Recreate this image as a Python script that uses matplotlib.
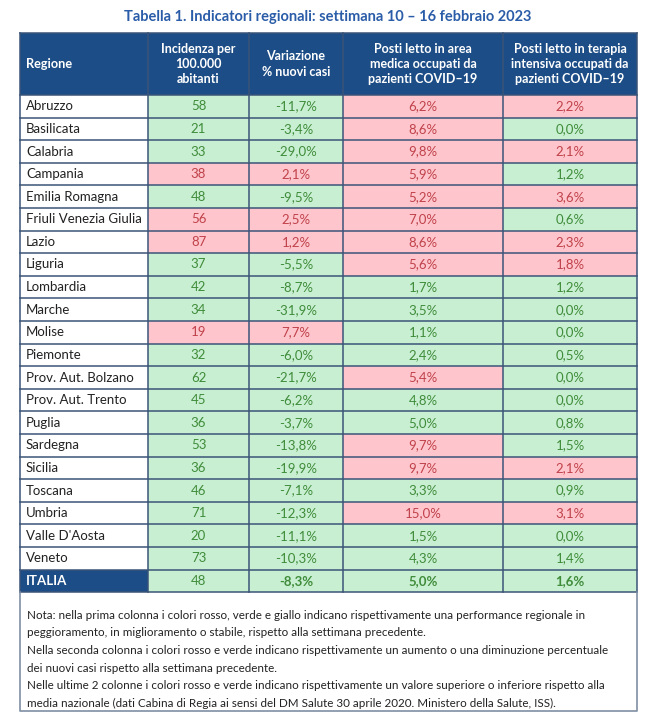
import matplotlib.pyplot as plt
import matplotlib.patches as m_patches

regioni = ['Abruzzo', 'Basilicata', 'Calabria', 'Campania', 'Emilia Romagna',
           'Friuli Venezia Giulia', 'Lazio', 'Liguria', 'Lombardia', 'Marche',
           'Molise', 'Piemonte', 'Prov. Aut. Bolzano', 'Prov. Aut. Trento',
           'Puglia', 'Sardegna', 'Sicilia', 'Toscana', 'Umbria',
           "Valle D'Aosta", 'Veneto']
incidenza = [58, 21, 33, 38, 48, 56, 87, 37, 42, 34, 19, 32, 62, 45, 36, 53,
             36, 46, 71, 20, 73]
variazione = [-11.7, -3.4, -29.0, 2.1, -9.5, 2.5, 1.2, -5.5, -8.7, -31.9, 7.7,
              -6.0, -21.7, -6.2, -3.7, -13.8, -19.9, -7.1, -12.3, -11.1, -10.3]
area_medica = [6.2, 8.6, 9.8, 5.9, 5.2, 7.0, 8.6, 5.6, 1.7, 3.5, 1.1, 2.4, 5.4,
               4.8, 5.0, 9.7, 9.7, 3.3, 15.0, 1.5, 4.3]
terapia = [2.2, 0.0, 2.1, 1.2, 3.6, 0.6, 2.3, 1.8, 1.2, 0.0, 0.0, 0.5, 0.0, 0.0,
           0.8, 1.5, 2.1, 0.9, 3.1, 0.0, 1.4]
italia = [48, -8.3, 5.0, 1.6]

intestazioni = ['Regione', 'Incidenza per\n100.000\nabitanti',
                'Variazione\n% nuovi casi',
                'Posti letto in area\nmedica occupati da\npazienti COVID\u201319',
                'Posti letto in terapia\nintensiva occupati da\npazienti COVID\u201319']
titolo = 'Tabella 1. Indicatori regionali: settimana 10 \u2013 16 febbraio 2023'
nota = ['Nota: nella prima colonna i colori rosso, verde e giallo indicano rispettivamente una performance regionale in',
        'peggioramento, in miglioramento o stabile, rispetto alla settimana precedente.',
        'Nella seconda colonna i colori rosso e verde indicano rispettivamente un aumento o una diminuzione percentuale',
        'dei nuovi casi rispetto alla settimana precedente.',
        'Nelle ultime 2 colonne i colori rosso e verde indicano rispettivamente un valore superiore o inferiore rispetto alla',
        'media nazionale (dati Cabina di Regia ai sensi del DM Salute 30 aprile 2020. Ministero della Salute, ISS).']

NAVY = '#1d4d86'
LINE = '#3b5478'
GREEN_BG = '#c9efd2'
RED_BG = '#fec6cc'
GREEN_TX = '#3f8c3a'
RED_TX = '#c0414a'

plt.rcParams['font.family'] = ['Lato', 'DejaVu Sans']

fig = plt.figure(figsize=(6.56, 7.14), dpi=100)
ax = fig.add_axes([0, 0, 1, 1])
ax.set_xlim(0, 656)
ax.set_ylim(714, 0)
ax.axis('off')

col_x = [20, 148, 249, 343, 503, 637]
head_top, head_bot = 33, 95
row_h = 22.6


def fmt(v):
    return ('%.1f%%' % v).replace('.', ',')


def rect(x0, y0, x1, y1, color):
    ax.add_patch(m_patches.Rectangle((x0, y0), x1 - x0, y1 - y0,
                                     facecolor=color, edgecolor='none'))


ax.text(328, 17, titolo, ha='center', va='center', fontsize=10.5,
        fontweight='bold', color='#2a5ca8')

# header
rect(col_x[0], head_top, col_x[-1], head_bot, NAVY)
for j, h in enumerate(intestazioni):
    if j == 0:
        ax.text(col_x[0] + 6, (head_top + head_bot) / 2, h, ha='left',
                va='center', color='white', fontsize=9.2, fontweight='bold')
    else:
        ax.text((col_x[j] + col_x[j + 1]) / 2, (head_top + head_bot) / 2, h,
                ha='center', va='center', color='white', fontsize=9,
                fontweight='bold', linespacing=1.3)

rows = []
for i, r in enumerate(regioni):
    up = variazione[i] > 0
    rows.append((r, [
        (str(incidenza[i]), up),
        (fmt(variazione[i]), up),
        (fmt(area_medica[i]), area_medica[i] > italia[2]),
        (fmt(terapia[i]), terapia[i] > italia[3]),
    ], False))
rows.append(('ITALIA', [(str(italia[0]), False), (fmt(italia[1]), False),
                        (fmt(italia[2]), False), (fmt(italia[3]), False)], True))

for i, (nome, celle, tot) in enumerate(rows):
    y0 = head_bot + i * row_h
    y1 = y0 + row_h
    yc = (y0 + y1) / 2
    rect(col_x[0], y0, col_x[1], y1, NAVY if tot else 'white')
    ax.text(col_x[0] + 6, yc, nome, ha='left', va='center', fontsize=9.5,
            color='white' if tot else '#222222',
            fontweight='bold' if tot else 'normal')
    for j, (txt, red) in enumerate(celle):
        rect(col_x[j + 1], y0, col_x[j + 2], y1, RED_BG if red else GREEN_BG)
        ax.text((col_x[j + 1] + col_x[j + 2]) / 2, yc, txt, ha='center',
                va='center', fontsize=9.5, color=RED_TX if red else GREEN_TX,
                fontweight='bold' if (tot and j > 0) else 'normal')

table_bot = head_bot + len(rows) * row_h
# grid lines
for i in range(len(rows) + 1):
    y = head_bot + i * row_h
    ax.plot([col_x[0], col_x[-1]], [y, y], color=LINE, lw=1.1)
ax.plot([col_x[0], col_x[-1]], [head_top, head_top], color=LINE, lw=1.1)
for x in col_x:
    ax.plot([x, x], [head_top, table_bot], color=LINE, lw=1.1)

# note box
ax.plot([col_x[0], col_x[0], col_x[-1], col_x[-1]],
        [table_bot, 711, 711, table_bot], color='#7f8fa3', lw=1.2)
for k, line in enumerate(nota):
    ax.text(27, table_bot + 23 + k * 17.6, line, ha='left', va='center',
            fontsize=8.4, color='#222222')

fig.savefig('out.png', dpi=100)
